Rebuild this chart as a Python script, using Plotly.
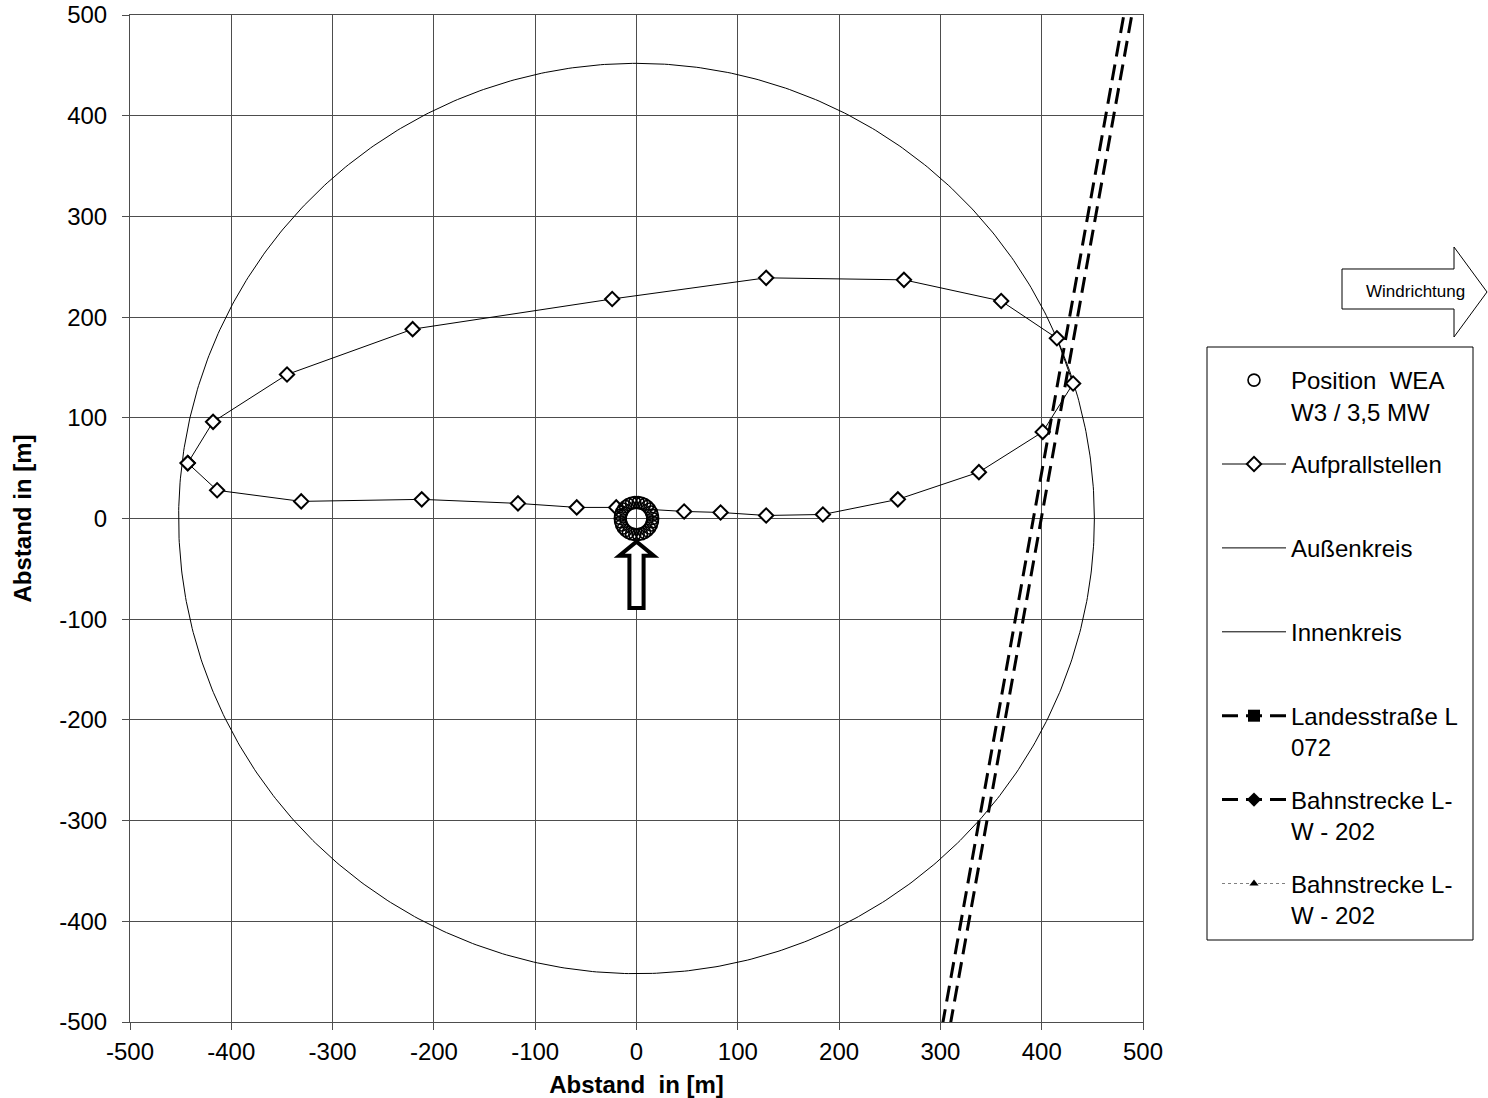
import numpy as np
import plotly.graph_objects as go

# ---------------- data ----------------
impact_x = [-443, -418, -345, -221, -24, 128, 264, 360, 415, 431, 401, 338,
            258, 184, 128, 83, 47, -20, -59, -117, -212, -331, -414, -443]
impact_y = [55, 96, 143, 188, 218, 239, 237, 216, 179, 134, 86, 46,
            19, 4, 3, 6, 7, 11, 11, 15, 19, 17, 28, 55]

outer_radius = 452          # Außenkreis [m]
inner_radius = 16           # Innenkreis [m]
wea_center = (0, 0)         # Position WEA
wea_ring_points = 30

road_x = [293.6, 490.0]     # Landesstraße L 072
road_y = [-550, 550]
rail_x = [301.3, 497.9]     # Bahnstrecke L-W - 202
rail_y = [-550, 550]

axis_ticks = list(range(-500, 501, 100))
axis_ticktext = [str(v) for v in axis_ticks]   # hyphen-minus as in reference

# ---------------- layout geometry ----------------
W, H = 1488, 1098
PLOT_L, PLOT_R, PLOT_T, PLOT_B = 130, 1143, 15, 1022   # page pixels
ML, MR = PLOT_L, W - PLOT_R
MT, MB = PLOT_T, H - PLOT_B
PW, PH = PLOT_R - PLOT_L, PLOT_B - PLOT_T


def px(xpage):
    return (xpage - PLOT_L) / PW


def py(ypage):
    return (PLOT_B - ypage) / PH


FONT = "Arial, Liberation Sans, sans-serif"

fig = go.Figure()

theta = np.linspace(0, 2 * np.pi, 721)
fig.add_trace(go.Scatter(
    x=outer_radius * np.cos(theta), y=outer_radius * np.sin(theta),
    mode="lines", name="Außenkreis<br>\u00a0", legendgroup="c", legendrank=3,
    line=dict(color="black", width=1), hoverinfo="skip"))
fig.add_trace(go.Scatter(
    x=inner_radius * np.cos(theta), y=inner_radius * np.sin(theta),
    mode="lines", name="Innenkreis<br>\u00a0", legendgroup="d", legendrank=4,
    line=dict(color="black", width=1), hoverinfo="skip"))

fig.add_trace(go.Scatter(
    x=impact_x, y=impact_y, mode="lines+markers",
    name="Aufprallstellen<br>\u00a0", legendgroup="b", legendrank=2,
    line=dict(color="black", width=1),
    marker=dict(symbol="diamond", size=11, color="white",
                line=dict(color="black", width=2))))

fig.add_trace(go.Scatter(
    x=road_x, y=road_y, mode="lines+markers",
    name="Landesstraße L<br>072", legendgroup="e", legendrank=5,
    line=dict(color="black", width=3, dash="16px,8px"),
    marker=dict(symbol="square", size=12, color="black")))
fig.add_trace(go.Scatter(
    x=rail_x, y=rail_y, mode="lines+markers",
    name="Bahnstrecke L-<br>W - 202", legendgroup="f", legendrank=6,
    line=dict(color="black", width=3, dash="16px,8px"),
    marker=dict(symbol="diamond", size=11, color="black")))
fig.add_trace(go.Scatter(
    x=[None], y=[None], mode="lines+markers",
    name="Bahnstrecke L-<br>W - 202", legendgroup="g", legendrank=7,
    line=dict(color="#808080", width=1, dash="dot"),
    marker=dict(symbol="triangle-up", size=8, color="black")))

ang = np.linspace(0, 2 * np.pi, wea_ring_points, endpoint=False)
fig.add_trace(go.Scatter(
    x=wea_center[0] + inner_radius * np.cos(ang),
    y=wea_center[1] + inner_radius * np.sin(ang),
    mode="markers", name="Position  WEA<br>W3 / 3,5 MW", legendgroup="a",
    legendrank=1,
    marker=dict(symbol="circle-open", size=12, color="black",
                line=dict(color="black", width=1.6))))

# arrow under the turbine (data coordinates)
fig.add_shape(type="path",
              path="M -7,-89 L 7,-89 L 7,-37 L 17,-37 L 0,-23 L -17,-37 L -7,-37 Z",
              xref="x", yref="y", fillcolor="white",
              line=dict(color="black", width=4))

# wind direction arrow (outside plot, paper coordinates)
pts = [(1342, 269), (1454, 269), (1454, 247), (1487, 292), (1454, 337),
       (1454, 309), (1342, 309)]
path = "M " + " L ".join(f"{px(a):.5f},{py(b):.5f}" for a, b in pts) + " Z"
fig.add_shape(type="path", path=path, xref="paper", yref="paper",
              fillcolor="white", line=dict(color="black", width=1))
fig.add_annotation(text="Windrichtung", x=px(1415), y=py(292), xref="paper",
                   yref="paper", showarrow=False, xanchor="center",
                   yanchor="middle", font=dict(family=FONT, size=17, color="black"))

# legend frame
fig.add_shape(type="rect", x0=px(1207), x1=px(1473), y0=py(347), y1=py(940),
              xref="paper", yref="paper", line=dict(color="black", width=1),
              fillcolor="rgba(0,0,0,0)", layer="above")

GRID = "#4d4d4d"
axis_common = dict(
    range=[-500, 500], tickvals=axis_ticks, ticktext=axis_ticktext,
    showgrid=True, gridcolor=GRID, gridwidth=1, zeroline=False,
    showline=True, linecolor=GRID, linewidth=1, mirror=True,
    ticks="outside", ticklen=7, tickcolor=GRID, automargin=False,
    ticklabeloverflow="allow",
    tickfont=dict(family=FONT, size=24, color="black"))

fig.update_layout(
    width=W, height=H, autosize=False,
    margin=dict(l=ML, r=MR, t=MT, b=MB),
    paper_bgcolor="white", plot_bgcolor="white",
    xaxis=dict(**axis_common, ticklabelstandoff=1,
               title=dict(text="Abstand\u00a0 in [m]", standoff=13,
                          font=dict(family=FONT, size=24, color="black", weight="bold"))),
    yaxis=dict(**axis_common, ticklabelstandoff=10,
               title=dict(text="Abstand in [m]", standoff=20,
                          font=dict(family=FONT, size=24, color="black", weight="bold"))),
    showlegend=True,
    legend=dict(x=px(1217), y=py(358), xanchor="left", yanchor="top",
                borderwidth=0, bgcolor="rgba(0,0,0,0)",
                font=dict(family=FONT, size=24, color="black"),
                itemwidth=64, tracegroupgap=18.5, valign="top",
                traceorder="grouped"),
)

# remove the browser's default 8px body margin so the figure fills the window
fig.write_html("out.html",
               config={"displayModeBar": False},
               post_script="document.body.style.margin='0';"
                           "document.body.style.overflow='hidden';")
